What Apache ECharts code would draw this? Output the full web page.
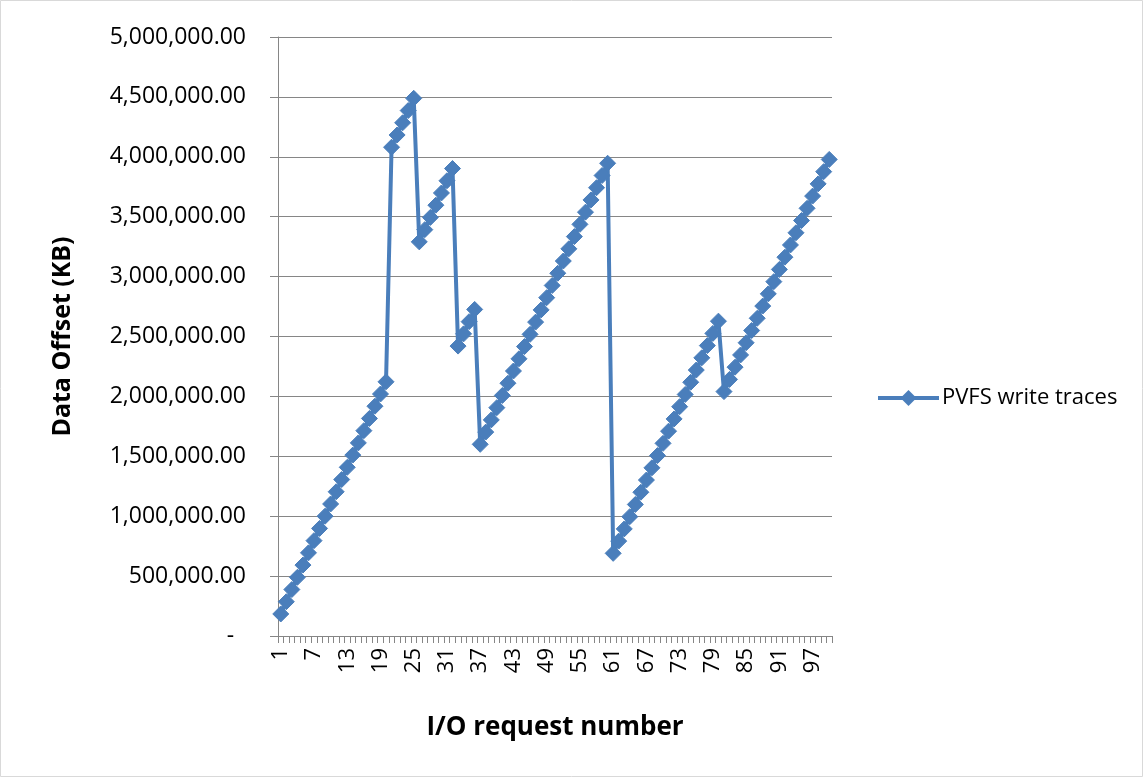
<!DOCTYPE html>
<html>
<head>
<meta charset="utf-8">
<script src="https://cdn.jsdelivr.net/npm/echarts@6/dist/echarts.min.js"></script>
<style>
html,body{margin:0;padding:0;background:#fff;}
#chart{width:1144px;height:778px;}
</style>
</head>
<body>
<div id="chart"></div>
<script>
// Categories: I/O request numbers 1..100
const categories = [
  1,2,3,4,5,6,7,8,9,10,11,12,13,14,15,16,17,18,19,20,
  21,22,23,24,25,26,27,28,29,30,31,32,33,34,35,36,37,38,39,40,
  41,42,43,44,45,46,47,48,49,50,51,52,53,54,55,56,57,58,59,60,
  61,62,63,64,65,66,67,68,69,70,71,72,73,74,75,76,77,78,79,80,
  81,82,83,84,85,86,87,88,89,90,91,92,93,94,95,96,97,98,99,100
];
const seriesName = 'PVFS write traces';
// Data offsets (KB)
const offsets = [
  184000,286000,388000,490000,592000,694000,796000,898000,1000000,1102000,
  1204000,1306000,1408000,1510000,1612000,1714000,1816000,1918000,2020000,2122000,
  4080000,4182000,4284000,4386000,4488000,
  3290000,3392000,3494000,3596000,3698000,3800000,3902000,
  2420000,2522000,2624000,2726000,
  1600000,1702000,1804000,1906000,2008000,2110000,2212000,2314000,2416000,2518000,
  2620000,2722000,2824000,2926000,3028000,3130000,3232000,3334000,3436000,3538000,
  3640000,3742000,3844000,3946000,
  690000,792000,894000,996000,1098000,1200000,1302000,1404000,1506000,1608000,
  1710000,1812000,1914000,2016000,2118000,2220000,2322000,2424000,2526000,2628000,
  2040000,2142000,2244000,2346000,2448000,2550000,2652000,2754000,2856000,2958000,
  3060000,3162000,3264000,3366000,3468000,3570000,3672000,3774000,3876000,3978000
];
const yTitle = 'Data Offset (KB)';
const xTitle = 'I/O request number';

const FONT = '"Open Sans", "Noto Sans", sans-serif';
const BLUE = '#4a7ebb';
const chart = echarts.init(document.getElementById('chart'), null, {renderer: 'canvas'});
function fmt(v){
  if (v === 0) return '-  ';
  return v.toLocaleString('en-US', {minimumFractionDigits: 2, maximumFractionDigits: 2});
}
chart.setOption({
  animation: false,
  backgroundColor: '#ffffff',
  graphic: [{
    type: 'rect', shape: {x: 0.5, y: 0.5, width: 1142, height: 776},
    style: {fill: 'none', stroke: '#d9d9d9', lineWidth: 1}, silent: true
  }],
  grid: {left: 278, right: 312, top: 37, bottom: 142, containLabel: false},
  legend: {
    data: [seriesName], orient: 'vertical', left: 871, top: 382,
    itemWidth: 61, itemHeight: 20, itemGap: 6,
    lineStyle: {width: 4, color: BLUE},
    itemStyle: {color: BLUE},
    textStyle: {fontFamily: FONT, fontSize: 22, color: '#000', padding: [0, 0, 0, -2]}
  },
  xAxis: {
    type: 'category', data: categories, boundaryGap: true,
    name: xTitle, nameLocation: 'middle', nameGap: 79,
    nameTextStyle: {fontFamily: FONT, fontSize: 26, fontWeight: 'bold', color: '#000'},
    axisLine: {lineStyle: {color: '#868686', width: 1}},
    axisTick: {show: true, interval: 0, length: 7, lineStyle: {color: '#868686'}},
    axisLabel: {interval: 5, rotate: 90, fontFamily: FONT, fontSize: 22, color: '#000', margin: 12},
    splitLine: {show: false}
  },
  yAxis: {
    type: 'value', min: 0, max: 5000000, interval: 500000,
    name: yTitle, nameLocation: 'middle', nameGap: 203,
    nameTextStyle: {fontFamily: FONT, fontSize: 25, fontWeight: 'bold', color: '#000'},
    axisLine: {show: true, lineStyle: {color: '#868686', width: 1}},
    axisTick: {show: true, length: 8, inside: false, lineStyle: {color: '#868686'}},
    axisLabel: {fontFamily: FONT, fontSize: 23, color: '#000', margin: 32, formatter: fmt},
    splitLine: {show: true, lineStyle: {color: '#868686', width: 1}}
  },
  series: [{
    name: seriesName, type: 'line', data: offsets,
    symbol: 'diamond', symbolSize: 16, showAllSymbol: true,
    lineStyle: {color: BLUE, width: 4},
    itemStyle: {color: BLUE, borderColor: BLUE}
  }]
});
</script>
</body>
</html>
